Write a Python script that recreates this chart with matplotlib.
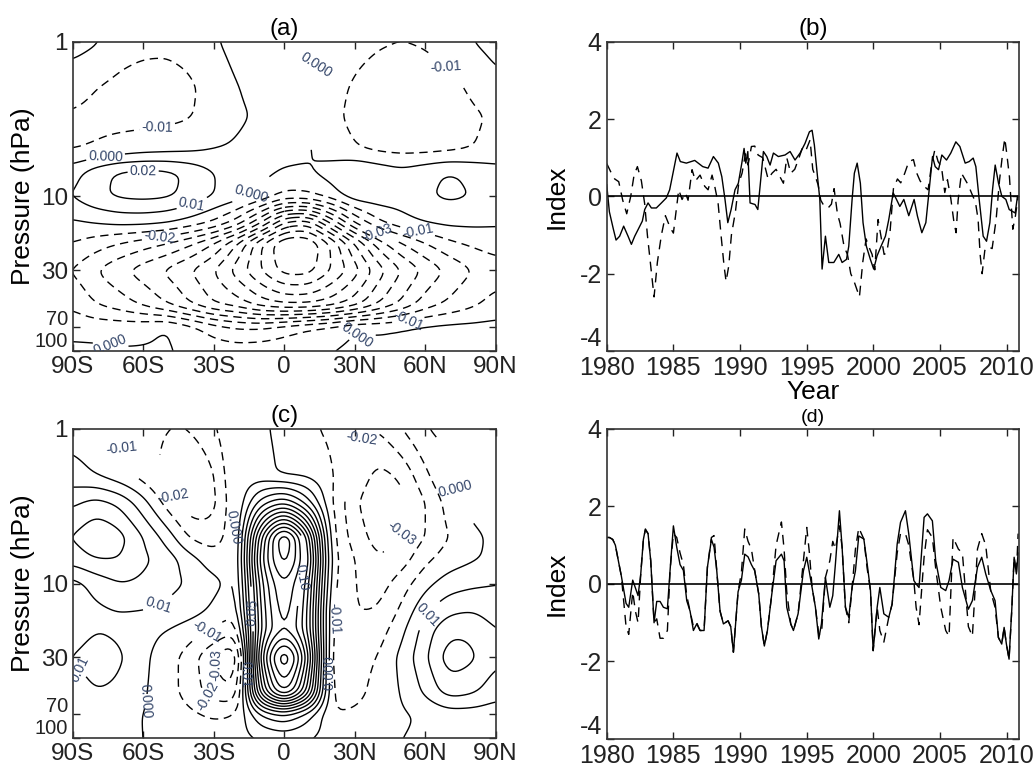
import numpy as np
import matplotlib
matplotlib.use('Agg')
import matplotlib.pyplot as plt
from matplotlib.ticker import NullLocator
from matplotlib.transforms import ScaledTranslation

plt.rcParams['font.family'] = ['Liberation Sans', 'DejaVu Sans']
plt.rcParams['axes.unicode_minus'] = False

# ---------------- data ----------------
lat = np.arange(-90, 91, 10)
plev = np.array([1, 2, 3, 5, 7, 10, 15, 20, 30, 50, 70, 100])

field_a = np.array([
    [0.004, 0.001, -0.005, -0.007, -0.008, -0.006, -0.001, 0.003, 0.003, 0.003, 0.002, 0.000, -0.006, -0.009, -0.010, -0.009, -0.005, 0.000, 0.003],
    [-0.006, -0.010, -0.013, -0.015, -0.014, -0.012, -0.005, 0.000, 0.002, 0.003, 0.001, -0.005, -0.012, -0.015, -0.016, -0.016, -0.014, -0.008, -0.002],
    [-0.011, -0.013, -0.014, -0.014, -0.013, -0.011, -0.005, -0.001, 0.001, 0.003, 0.000, -0.006, -0.014, -0.017, -0.018, -0.018, -0.016, -0.012, -0.008],
    [-0.011, -0.009, -0.006, -0.004, -0.003, -0.002, 0.000, 0.001, 0.002, 0.003, 0.001, -0.004, -0.009, -0.012, -0.013, -0.013, -0.012, -0.010, -0.007],
    [0.006, 0.016, 0.022, 0.024, 0.023, 0.018, 0.010, 0.006, 0.003, -0.001, -0.001, 0.004, 0.011, 0.007, 0.003, 0.007, 0.011, 0.008, 0.004],
    [0.010, 0.018, 0.022, 0.023, 0.022, 0.017, 0.010, 0.005, -0.002, -0.013, -0.012, -0.005, 0.006, 0.006, 0.005, 0.009, 0.012, 0.010, 0.006],
    [-0.002, 0.000, 0.002, 0.002, 0.000, -0.005, -0.012, -0.025, -0.050, -0.085, -0.090, -0.060, -0.030, -0.012, -0.004, 0.000, 0.002, 0.002, 0.001],
    [-0.010, -0.015, -0.020, -0.025, -0.030, -0.038, -0.050, -0.070, -0.100, -0.120, -0.120, -0.100, -0.070, -0.045, -0.030, -0.020, -0.012, -0.008, -0.005],
    [-0.020, -0.030, -0.038, -0.045, -0.052, -0.060, -0.070, -0.085, -0.100, -0.115, -0.115, -0.100, -0.085, -0.065, -0.050, -0.038, -0.028, -0.020, -0.015],
    [-0.012, -0.020, -0.025, -0.032, -0.040, -0.050, -0.060, -0.065, -0.075, -0.080, -0.080, -0.075, -0.065, -0.050, -0.038, -0.025, -0.018, -0.012, -0.006],
    [-0.003, -0.004, -0.004, -0.003, 0.001, -0.006, -0.015, -0.020, -0.020, -0.015, -0.010, -0.006, 0.000, -0.001, 0.000, 0.002, 0.003, 0.003, 0.003],
    [0.002, 0.002, 0.001, 0.001, 0.001, -0.002, -0.004, -0.005, -0.004, -0.003, -0.002, 0.000, 0.002, 0.002, 0.003, 0.004, 0.004, 0.004, 0.004],
])

field_c = np.array([
    [-0.004, -0.008, -0.012, -0.016, -0.020, -0.020, -0.012, 0.002, 0.002, -0.003, -0.008, -0.012, -0.018, -0.020, -0.010, 0.000, 0.003, 0.005, 0.004],
    [0.004, 0.000, -0.006, -0.014, -0.024, -0.030, -0.022, 0.003, 0.004, -0.002, -0.002, -0.008, -0.022, -0.034, -0.028, -0.012, 0.000, 0.012, 0.006],
    [0.018, 0.024, 0.018, 0.004, -0.014, -0.028, -0.024, 0.001, 0.035, 0.050, 0.025, -0.010, -0.028, -0.040, -0.035, -0.020, -0.006, 0.004, 0.004],
    [0.030, 0.040, 0.034, 0.020, 0.006, -0.012, -0.016, -0.002, 0.090, 0.150, 0.090, -0.010, -0.024, -0.035, -0.030, -0.020, -0.010, -0.002, 0.002],
    [0.024, 0.030, 0.030, 0.022, 0.016, 0.004, -0.006, -0.003, 0.100, 0.140, 0.100, -0.008, -0.020, -0.030, -0.025, -0.012, -0.005, -0.001, 0.002],
    [0.006, 0.014, 0.020, 0.018, 0.013, 0.009, 0.003, -0.005, 0.090, 0.125, 0.090, -0.010, -0.020, -0.025, -0.015, -0.003, 0.005, 0.008, 0.010],
    [0.003, 0.008, 0.010, 0.010, 0.008, 0.004, -0.002, -0.010, 0.085, 0.120, 0.085, -0.015, -0.020, -0.020, -0.008, 0.008, 0.018, 0.020, 0.015],
    [0.005, 0.010, 0.008, 0.003, 0.000, -0.005, -0.010, -0.020, 0.085, 0.115, 0.085, -0.015, -0.020, -0.015, -0.003, 0.015, 0.028, 0.028, 0.020],
    [0.010, 0.015, 0.012, 0.002, -0.005, -0.015, -0.030, -0.045, 0.100, 0.160, 0.100, -0.020, -0.015, -0.010, 0.003, 0.018, 0.036, 0.032, 0.022],
    [0.005, 0.010, 0.008, 0.001, -0.005, -0.015, -0.025, -0.030, 0.080, 0.130, 0.080, -0.015, -0.015, -0.005, 0.000, 0.012, 0.025, 0.022, 0.014],
    [0.002, 0.003, 0.002, 0.000, -0.003, -0.008, -0.012, -0.010, 0.020, 0.030, 0.015, -0.010, -0.008, -0.003, -0.001, 0.001, 0.005, 0.005, 0.004],
    [0.001, 0.001, 0.001, 0.000, -0.001, -0.003, -0.004, -0.003, 0.000, 0.003, 0.000, -0.003, -0.002, -0.001, 0.000, 0.001, 0.002, 0.002, 0.002],
])

lat_ticks = [-90, -60, -30, 0, 30, 60, 90]
lat_labels = ['90S', '60S', '30S', '0', '30N', '60N', '90N']
p_ticks = [1, 10, 30, 70, 100]
p_labels = ['1', '10', '30', '70', '100']

year_ticks = [1980, 1985, 1990, 1995, 2000, 2005, 2010]
idx_ticks = [-4, -2, 0, 2, 4]

b_solid_t = [1980.0, 1980.2, 1980.5, 1980.7, 1980.97, 1981.27, 1981.6, 1981.85, 1982.1, 1982.35,
             1982.67, 1982.85, 1983.1, 1983.35, 1983.72, 1984.1, 1984.47, 1984.72, 1984.97, 1985.27,
             1985.52, 1985.97, 1986.6, 1987.2, 1987.6, 1988.0, 1988.37, 1988.63, 1988.87, 1989.08,
             1989.33, 1989.62, 1989.87, 1990.13, 1990.3, 1990.43, 1990.58, 1990.75, 1991.12, 1991.33,
             1991.5, 1991.75, 1992.0, 1992.25, 1992.5, 1992.87, 1993.37, 1993.75, 1994.12, 1994.5,
             1994.87, 1995.2, 1995.4, 1995.57, 1995.78, 1995.98, 1996.15, 1996.4, 1996.65, 1997.03,
             1997.4, 1997.65, 1997.98, 1998.15, 1998.4, 1998.57, 1998.78, 1999.02, 1999.22, 1999.47,
             1999.77, 2000.02, 2000.27, 2000.57, 2000.9, 2001.15, 2001.48, 2001.73, 2001.98, 2002.28,
             2002.65, 2003.05, 2003.3, 2003.63, 2003.93, 2004.18, 2004.43, 2004.63, 2004.88, 2005.13,
             2005.48, 2005.8, 2006.18, 2006.48, 2006.88, 2007.18, 2007.48, 2007.68, 2007.93, 2008.23,
             2008.48, 2008.73, 2008.93, 2009.13, 2009.38, 2009.63, 2009.93, 2010.18, 2010.43, 2010.63,
             2010.8]
b_solid_v = [0.3, -0.4, -0.85, -1.13, -1.03, -0.77, -1.03, -1.24, -1.03, -0.86,
             -0.64, -0.34, -0.17, -0.3, -0.3, -0.17, -0.04, 0.17, 0.6, 1.12,
             0.9, 0.86, 0.93, 0.77, 0.73, 1.03, 0.86, 0.51, -0.08, -0.68,
             -0.34, 0.17, 0.34, 0.86, 1.24, 0.86, 1.16, -0.17, -0.21, -0.34,
             0.26, 1.16, 1.03, 0.81, 1.12, 1.03, 1.07, 1.16, 0.94, 1.12,
             1.37, 1.67, 1.71, 1.33, 0.6, -0.08, -1.88, -1.03, -1.71, -1.71,
             -1.5, -1.71, -1.63, -1.29, -0.08, 0.6, 0.86, 0.34, -0.68, -1.29,
             -1.63, -1.88, -1.54, -1.29, -1.03, -0.6, 0.09, -0.08, -0.26, -0.08,
             -0.5, -0.08, -0.51, -0.94, -0.68, 0.17, 1.03, 0.77, 0.69, 1.07,
             0.94, 1.12, 1.41, 1.29, 0.86, 0.9, 0.99, 0.77, -0.08, -1.03,
             -1.16, -0.68, 0.17, 0.81, 0.34, 0.0, -0.08, -0.34, -0.39, -0.43,
             0.0]

b_dash_t = [1980.0, 1980.35, 1980.6, 1980.9, 1981.2, 1981.5, 1981.8, 1982.05, 1982.3, 1982.6,
            1982.85, 1983.05, 1983.3, 1983.55, 1983.8, 1984.1, 1984.4, 1984.75, 1985.0, 1985.4,
            1985.65, 1985.9, 1986.1, 1986.4, 1986.65, 1987.0, 1987.35, 1987.6, 1987.9, 1988.1,
            1988.35, 1988.6, 1988.8, 1988.95, 1989.15, 1989.35, 1989.65, 1989.9, 1990.15, 1990.4,
            1990.6, 1990.85, 1991.1, 1991.35, 1991.7, 1992.1, 1992.4, 1992.7, 1993.0, 1993.25,
            1993.5, 1993.8, 1994.1, 1994.45, 1994.7, 1994.95, 1995.25, 1995.45, 1995.65, 1995.85,
            1996.05, 1996.3, 1996.6, 1996.85, 1997.05, 1997.3, 1997.5, 1997.8, 1998.05, 1998.3,
            1998.55, 1998.75, 1998.95, 1999.2, 1999.45, 1999.65, 1999.9, 2000.1, 2000.35, 2000.55,
            2000.8, 2001.0, 2001.25, 2001.5, 2001.8, 2002.05, 2002.35, 2002.65, 2003.0, 2003.25,
            2003.5, 2003.8, 2004.1, 2004.35, 2004.6, 2004.85, 2005.1, 2005.35, 2005.55, 2005.8,
            2006.05, 2006.2, 2006.35, 2006.6, 2006.85, 2007.1, 2007.4, 2007.65, 2007.85, 2008.0,
            2008.15, 2008.35, 2008.6, 2008.9, 2009.2, 2009.45, 2009.65, 2009.85, 2010.0, 2010.2,
            2010.45, 2010.65, 2010.85]
b_dash_v = [0.85, 0.6, 0.45, 0.38, -0.1, -0.45, 0.0, 0.55, 0.77, 0.4,
            -0.2, -1.0, -1.8, -2.6, -1.7, -1.0, -0.5, -0.8, -0.95, 0.17,
            -0.08, 0.09, -0.1, 0.69, 0.4, 0.55, 0.26, 0.17, 0.55, 0.26,
            -0.17, -1.1, -1.8, -2.2, -1.8, -1.0, -0.4, 0.34, 0.6, 1.1,
            0.81, 1.29, 1.3, 1.07, 1.0, 0.45, 0.6, 0.7, 0.5, 0.34,
            1.0, 0.6, 0.7, 1.03, 1.28, 1.2, 1.46, 0.7, 0.51, 0.3,
            -0.1, -0.25, -0.3, -0.2, 0.2, -0.45, -0.7, -1.3, -1.5, -2.0,
            -2.2, -2.4, -2.6, -1.7, -1.1, -1.3, -1.5, -1.9, -0.6, -1.0,
            -1.5, -1.46, -0.9, 0.2, 0.45, 0.35, 0.6, 0.9, 0.95, 0.6,
            0.4, 0.26, 0.17, 0.8, 1.2, 0.9, 0.77, 0.1, 0.43, -0.05,
            -0.7, -0.94, -0.1, 0.6, 0.45, 0.3, 0.05, -0.15, -0.6, -1.5,
            -2.0, -1.4, -1.3, -1.35, -0.6, 0.4, 1.0, 1.5, 1.1, 0.5,
            -0.85, -0.5, 0.0]

d_t = [1980.0, 1980.2, 1980.45, 1980.65, 1980.9, 1981.1, 1981.45, 1981.65, 1981.95, 1982.15,
       1982.35, 1982.55, 1982.75, 1982.9, 1983.1, 1983.3, 1983.55, 1983.75, 1984.0, 1984.25,
       1984.55, 1984.75, 1985.0, 1985.25, 1985.5, 1985.75, 1986.0, 1986.25, 1986.5, 1986.75,
       1987.0, 1987.3, 1987.55, 1987.85, 1988.05, 1988.25, 1988.5, 1988.75, 1989.1, 1989.3,
       1989.5, 1989.85, 1990.1, 1990.35, 1990.6, 1990.85, 1991.1, 1991.4, 1991.6, 1991.82,
       1992.05, 1992.35, 1992.7, 1993.1, 1993.3, 1993.5, 1993.8, 1994.0, 1994.35, 1994.75,
       1995.0, 1995.2, 1995.4, 1995.65, 1995.9, 1996.1, 1996.4, 1996.73, 1996.95, 1997.15,
       1997.45, 1997.65, 1997.9, 1998.15, 1998.4, 1998.65, 1998.9, 1999.28, 1999.53, 1999.78,
       1999.98, 2000.28, 2000.48, 2000.78, 2001.15, 2001.4, 2001.78, 2002.03, 2002.4, 2002.65,
       2003.03, 2003.2, 2003.42, 2003.8, 2004.05, 2004.42, 2004.67, 2005.05, 2005.42, 2005.67,
       2005.97, 2006.37, 2006.67, 2007.12, 2007.42, 2007.8, 2008.12, 2008.42, 2008.8, 2009.12,
       2009.37, 2009.62, 2009.8, 2009.97, 2010.17, 2010.37, 2010.55, 2010.72, 2010.85]
d_solid_v = [1.2, 1.2, 1.15, 1.0, 0.55, 0.2, -0.5, -0.6, 0.1, -0.1,
             -0.3, 0.25, 1.15, 1.42, 1.3, 0.6, -1.0, -0.45, -0.45, -0.6,
             -0.64, 0.35, 1.5, 0.95, 0.5, 0.35, -0.43, -0.7, -1.2, -1.03,
             -1.2, -1.2, 0.43, 1.15, 0.95, 0.35, -0.7, -1.03, -0.95, -1.1,
             -1.76, -0.2, 0.1, 0.77, 0.7, 0.5, 0.34, -0.26, -1.1, -1.6,
             -1.2, -0.34, 0.6, 0.77, 0.6, -0.6, -1.03, -1.2, -0.77, 0.34,
             0.69, 0.3, -0.09, -0.6, -1.42, -1.03, 0.17, -0.6, -0.3, 0.52,
             1.89, 0.95, -0.6, -0.86, -0.09, 0.34, 1.24, 1.16, 0.52, -0.17,
             -1.72, -0.6, -0.09, -0.77, -0.86, -0.52, 1.03, 1.59, 1.89, 1.29,
             0.09, 0.0, -0.09, 1.72, 1.81, 1.63, 0.6, -0.09, -0.17, 0.09,
             0.64, 0.56, -0.09, -0.65, -0.43, 0.43, 0.69, 0.26, -0.17, -0.43,
             -1.38, -1.55, -1.12, -1.55, -1.94, -0.69, 0.69, 0.26, 0.8]
d_dash_v = [1.2, 1.2, 1.15, 1.0, 0.55, 0.2, -1.1, -1.3, -0.2, -0.7,
            -1.0, 0.25, 1.15, 1.4, 1.3, 0.6, -1.0, -0.9, -1.4, -1.4,
            -1.2, 0.35, 1.3, 1.2, 0.8, 0.5, -0.3, -0.7, -1.1, -1.0,
            -1.2, -1.2, 0.43, 1.2, 1.25, 0.35, -0.7, -1.03, -0.95, -1.1,
            -1.76, -0.2, 0.3, 1.42, 1.1, 0.9, 0.34, -0.26, -1.1, -1.6,
            -1.2, -0.34, 1.0, 1.6, 0.9, -0.2, -1.03, -1.2, -0.77, 0.6,
            1.46, 0.8, -0.09, -0.6, -1.3, -1.3, 0.17, 0.6, 1.1, 0.9,
            1.5, 0.95, -0.6, -1.0, -0.09, 0.9, 1.45, 1.16, 0.4, -0.17,
            -1.72, -0.6, -1.2, -1.5, -0.86, -0.52, 0.8, 1.3, 1.3, 1.0,
            0.09, -0.6, -1.05, 0.7, 1.4, 1.2, 0.4, -0.6, -1.2, -1.35,
            1.2, 0.9, 0.8, -1.1, -1.35, 0.9, 1.3, 1.0, -0.2, -0.6,
            -1.38, -1.55, -1.12, -1.55, -1.94, -0.69, 0.69, 0.26, 1.3]

# ---------------- helpers ----------------
def refine(field):
    lat_f = np.linspace(-90, 90, 181)
    lp = np.log10(plev)
    lp_f = np.linspace(0, 2, 161)
    tmp = np.array([np.interp(lat_f, lat, row) for row in field])
    fine = np.array([np.interp(lp_f, lp, tmp[:, j]) for j in range(tmp.shape[1])]).T

    def smooth(arr, sigma, axis):
        r = int(3 * sigma)
        k = np.exp(-0.5 * (np.arange(-r, r + 1) / sigma) ** 2)
        k /= k.sum()
        pad = [(0, 0), (0, 0)]
        pad[axis] = (r, r)
        a = np.pad(arr, pad, mode='edge')
        return np.apply_along_axis(lambda v: np.convolve(v, k, mode='valid'), axis, a)

    fine = smooth(fine, 3.0, 1)
    fine = smooth(fine, 2.5, 0)
    return lat_f, 10 ** lp_f, fine


def fmt(v):
    if abs(v) < 1e-9:
        return '0.000'
    return '%.2f' % v


SPINE = '#333333'
LBL_COLOR = '#34466a'
levels = np.round(np.arange(-0.12, 0.1701, 0.01), 2)
level_styles = [(0, (6, 4)) if lv < 0 else 'solid' for lv in levels]


def style_axes(ax, tick_size):
    for s in ax.spines.values():
        s.set_color(SPINE)
        s.set_linewidth(1.2)
    ax.tick_params(direction='in', length=5, width=1.0, top=True, right=True,
                   labelsize=tick_size, colors='#222222')


def nudge_up(ax, lbl, px):
    lbl.set_transform(lbl.get_transform() +
                      ScaledTranslation(0, px / 100.0, ax.figure.dpi_scale_trans))


def contour_panel(ax, field, title, label_levels):
    lf, pf, Z = refine(field)
    cs = ax.contour(lf, pf, Z, levels=levels, colors='k', linewidths=1.0,
                    linestyles=level_styles)
    ax.clabel(cs, levels=label_levels, fmt=fmt, fontsize=10, colors=LBL_COLOR,
              inline=True, inline_spacing=2)
    ax.set_yscale('log')
    ax.set_ylim(100, 1)
    ax.set_xlim(-90, 90)
    ax.set_yticks(p_ticks)
    ax.set_yticklabels(p_labels)
    ax.yaxis.set_minor_locator(NullLocator())
    ax.set_xticks(lat_ticks)
    ax.set_xticklabels(lat_labels)
    style_axes(ax, 17.5)
    ylbls = ax.get_yticklabels()
    ylbls[-1].set_va('bottom')
    ylbls[-1].set_fontsize(14.5)
    ylbls[-2].set_fontsize(14.5)
    nudge_up(ax, ylbls[-2], 10)
    ax.set_title(title, fontsize=17.5, pad=5)
    ax.set_ylabel('Pressure (hPa)', fontsize=19)
    ax.yaxis.set_label_coords(-0.088, 0.5)


def series_panel(ax, t1, v1, t2, v2, title, tsize):
    ax.axhline(0, color='k', lw=1.2)
    ax.plot(t2, v2, color='k', lw=1.0, ls=(0, (7, 5)))
    ax.plot(t1, v1, color='k', lw=1.0)
    ax.set_xlim(1980, 2010.92)
    ax.set_ylim(-4, 4)
    ax.set_xticks(year_ticks)
    ax.set_xticklabels([str(y) for y in year_ticks])
    ax.set_yticks(idx_ticks)
    ax.set_yticklabels([str(v) for v in idx_ticks])
    style_axes(ax, 18)
    ax.get_yticklabels()[0].set_va('bottom')
    ax.set_title(title, fontsize=tsize, pad=5)
    ax.set_ylabel('Index', fontsize=19)
    ax.yaxis.set_label_coords(-0.092, 0.5)


# ---------------- figure ----------------
fig = plt.figure(figsize=(10.35, 7.71), dpi=100)
ax_a = fig.add_axes([0.0702, 0.5447, 0.4087, 0.4012])
ax_b = fig.add_axes([0.5862, 0.5447, 0.3984, 0.4012])
ax_c = fig.add_axes([0.0702, 0.0424, 0.4087, 0.4012])
ax_d = fig.add_axes([0.5862, 0.0415, 0.3984, 0.4021])

contour_panel(ax_a, field_a, '(a)', [-0.03, -0.02, -0.01, 0.0, 0.01, 0.02])
contour_panel(ax_c, field_c, '(c)', [-0.03, -0.02, -0.01, 0.0, 0.01, 0.05, 0.1])

series_panel(ax_b, b_solid_t, b_solid_v, b_dash_t, b_dash_v, '(b)', 17.5)
ax_b.set_xlabel('Year', fontsize=19, labelpad=0)
series_panel(ax_d, d_t, d_solid_v, d_t, d_dash_v, '(d)', 14)

fig.savefig('out.png', dpi=100)
